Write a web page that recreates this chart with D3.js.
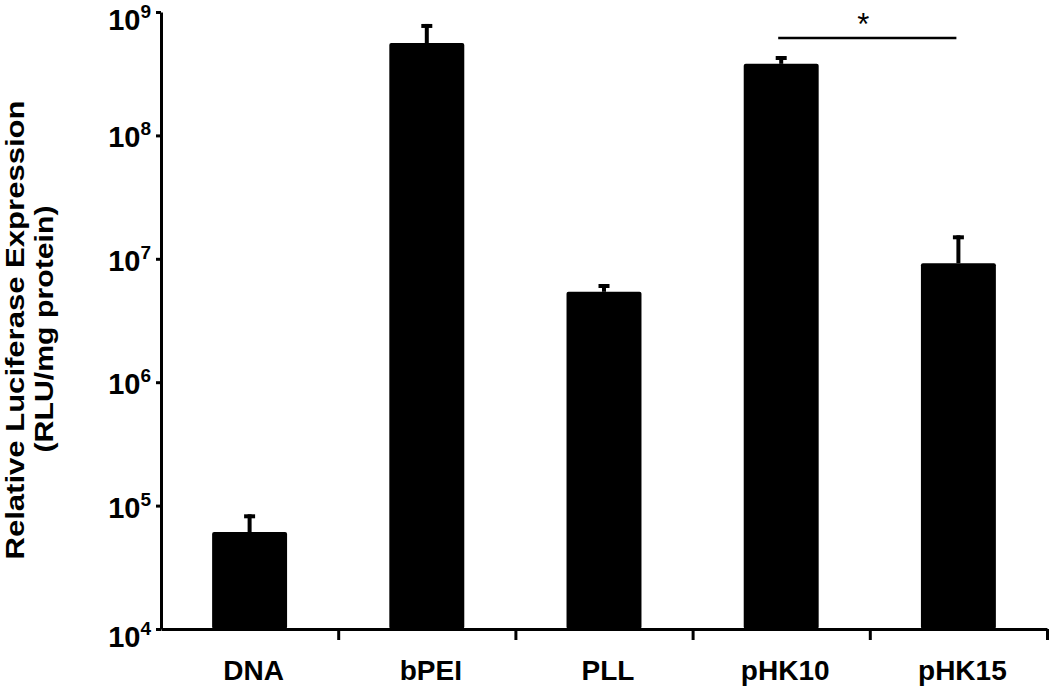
<!DOCTYPE html>
<html>
<head>
<meta charset="utf-8">
<script src="https://cdn.jsdelivr.net/npm/d3@7"></script>
<style>
  body { margin: 0; background: #fff; }
  svg { font-family: "Liberation Sans", Arial, Helvetica, sans-serif; }
  .axis path, .axis line { stroke: #000; stroke-width: 3; }
</style>
</head>
<body>
<svg width="1050" height="688"></svg>
<script>
const categories = ["DNA", "bPEI", "PLL", "pHK10", "pHK15"];
const means = [6.1e4, 5.6e8, 5.4e6, 3.8e8, 9.2e6];
const sd = [2.4e4, 2.4e8, 0.85e6, 0.6e8, 6.3e6];
const yTicks = [1e4, 1e5, 1e6, 1e7, 1e8, 1e9];
const yTitle = ["Relative Luciferase Expression", "(RLU/mg protein)"];
const sigPair = ["pHK10", "pHK15"];
const sigLabel = "*";

const svg = d3.select("svg"),
      plotLeft = 161, plotRight = 1047, plotTop = 12, plotBottom = 629;

const x = d3.scaleBand().domain(categories).range([plotLeft, plotRight])
    .paddingInner(0.577).paddingOuter(0.2885);
const y = d3.scaleLog().domain([1e4, 1e9]).range([plotBottom, plotTop]);
// boundaries between categories, for the x ticks
const xb = d3.scaleLinear().domain([0, categories.length]).range([plotLeft, plotRight]);

const data = categories.map((c, i) => ({ c, m: means[i], e: sd[i] }));

// bars
svg.append("g").selectAll("rect").data(data).join("rect")
    .attr("x", d => x(d.c))
    .attr("width", x.bandwidth())
    .attr("y", d => y(d.m))
    .attr("height", d => plotBottom - y(d.m))
    .attr("rx", 2)
    .attr("fill", "#000");

// upper error bars
const eb = svg.append("g").attr("stroke", "#000").attr("stroke-width", 4);
eb.selectAll(".stem").data(data).join("line").attr("class", "stem")
    .attr("x1", d => x(d.c) + x.bandwidth() / 2)
    .attr("x2", d => x(d.c) + x.bandwidth() / 2)
    .attr("y1", d => y(d.m))
    .attr("y2", d => y(d.m + d.e));
eb.selectAll(".cap").data(data).join("line").attr("class", "cap")
    .attr("x1", d => x(d.c) + x.bandwidth() / 2 - 5.5)
    .attr("x2", d => x(d.c) + x.bandwidth() / 2 + 5.5)
    .attr("y1", d => y(d.m + d.e) + 2)
    .attr("y2", d => y(d.m + d.e) + 2);

// y axis
svg.append("g").attr("class", "axis")
    .attr("transform", `translate(${plotLeft},0)`)
    .call(d3.axisLeft(y).tickValues(yTicks).tickSize(5).tickSizeOuter(0).tickFormat(""));

const yl = svg.append("g").attr("font-weight", "bold").attr("text-anchor", "end");
yTicks.forEach((v, i) => {
  let off = 12;
  if (i === 0) off = 18;
  if (i === yTicks.length - 1) off = 18; // top label pushed down so it isn't clipped
  const t = yl.append("text").attr("x", 151).attr("y", y(v) + off);
  t.append("tspan").attr("font-size", 29).text("10");
  t.append("tspan").attr("font-size", 19).attr("dy", -12).text(Math.round(Math.log10(v)));
});

// x axis
svg.append("g").attr("class", "axis")
    .attr("transform", `translate(0,${plotBottom})`)
    .call(d3.axisBottom(xb).tickValues(d3.range(1, categories.length + 1)).tickSize(11).tickSizeOuter(0).tickFormat(""));

svg.append("g").attr("font-weight", "bold").attr("font-size", 28).attr("text-anchor", "middle")
  .selectAll("text").data(categories).join("text")
    .attr("x", d => x(d) + x.bandwidth() / 2 + 4)
    .attr("y", 680)
    .text(d => d);

// y title
svg.append("text")
    .attr("transform", "translate(24,330) rotate(-90)")
    .attr("text-anchor", "middle").attr("font-weight", "bold").attr("font-size", 25)
    .attr("textLength", 459).attr("lengthAdjust", "spacingAndGlyphs")
    .text(yTitle[0]);
svg.append("text")
    .attr("transform", "translate(53,329) rotate(-90)")
    .attr("text-anchor", "middle").attr("font-weight", "bold").attr("font-size", 25)
    .attr("textLength", 247).attr("lengthAdjust", "spacingAndGlyphs")
    .text(yTitle[1]);

// significance bracket
const sx1 = x(sigPair[0]) + x.bandwidth() / 2 - 3,
      sx2 = x(sigPair[1]) + x.bandwidth() / 2 - 2;
svg.append("line")
    .attr("x1", sx1).attr("x2", sx2).attr("y1", 38).attr("y2", 38)
    .attr("stroke", "#000").attr("stroke-width", 2.3);
svg.append("text")
    .attr("x", (sx1 + sx2) / 2 - 4).attr("y", 35)
    .attr("text-anchor", "middle").attr("font-size", 31)
    .text(sigLabel);
</script>
</body>
</html>
